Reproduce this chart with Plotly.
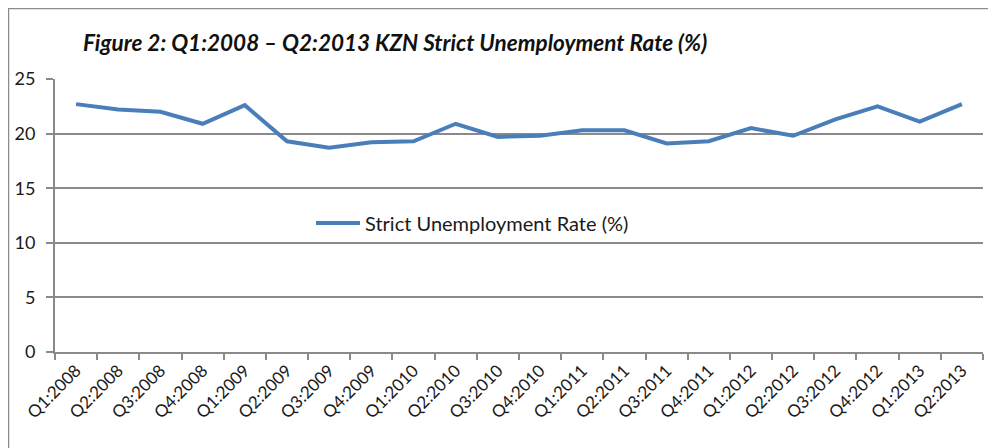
import plotly.graph_objects as go

quarters = ["Q1:2008", "Q2:2008", "Q3:2008", "Q4:2008", "Q1:2009", "Q2:2009", "Q3:2009",
            "Q4:2009", "Q1:2010", "Q2:2010", "Q3:2010", "Q4:2010", "Q1:2011", "Q2:2011",
            "Q3:2011", "Q4:2011", "Q1:2012", "Q2:2012", "Q3:2012", "Q4:2012", "Q1:2013",
            "Q2:2013"]
rate = [22.7, 22.2, 22.0, 20.9, 22.6, 19.3, 18.7, 19.2, 19.3, 20.9, 19.7, 19.8, 20.3,
        20.3, 19.1, 19.3, 20.5, 19.8, 21.3, 22.5, 21.1, 22.7]
series_name = "Strict Unemployment Rate (%)"
title_text = "Figure 2: Q1:2008 \u2013 Q2:2013 KZN Strict Unemployment Rate (%)"

FONT = "Lato, 'Open Sans', sans-serif"
GRID = "#8a8a8a"
TXT = "#1a1a1a"

fig = go.Figure()
fig.add_trace(go.Scatter(x=quarters, y=rate, mode="lines", name=series_name,
                         line=dict(color="#4a7ebb", width=4)))

# page body has an 8px margin: figure is drawn at (8, 8) in the window
OFF = 8
W, H = 996 - OFF, 448 - OFF
L, T = 55 - OFF, 79 - OFF
R = W - (983 - OFF)
B = H - (352 - OFF)
PW, PH = W - L - R, H - T - B


def px_x(sx):
    return (sx - OFF - L) / PW


def px_y(sy):
    return (352 - sy) / PH


fig.update_layout(
    width=W, height=H,
    margin=dict(l=L, r=R, t=T, b=B, autoexpand=False),
    paper_bgcolor="white", plot_bgcolor="white",
    font=dict(family=FONT, color=TXT),
    showlegend=True,
    legend=dict(x=px_x(311), y=px_y(223),
                xanchor="left", yanchor="middle", bgcolor="rgba(0,0,0,0)",
                itemwidth=44,
                font=dict(size=20, family=FONT, color=TXT)),
    xaxis=dict(type="category", range=[-0.5, len(quarters) - 0.5], automargin=False,
               showgrid=False, showline=True, linecolor=GRID, linewidth=2,
               ticks="outside", tickson="boundaries", ticklen=6, tickcolor=GRID, tickwidth=2,
               tickangle=-45, tickfont=dict(size=17, family=FONT, color=TXT),
               zeroline=False),
    yaxis=dict(range=[0, 25], tickvals=[0, 5, 10, 15, 20, 25], automargin=False,
               showgrid=True, gridcolor=GRID, gridwidth=2, showline=True, linecolor=GRID,
               linewidth=2, ticks="outside", ticklen=7, tickcolor=GRID, tickwidth=2,
               ticklabelstandoff=7,
               tickfont=dict(size=18, family=FONT, color=TXT), zeroline=False),
    annotations=[dict(text="<b><i>" + title_text + "</i></b>", xref="paper", yref="paper",
                      x=px_x(81), y=px_y(42),
                      xanchor="left", yanchor="middle", showarrow=False,
                      font=dict(size=22.5, family=FONT, color="#111111"))],
    shapes=[dict(type="rect", xref="paper", yref="paper",
                 x0=px_x(8.5), x1=px_x(1010),
                 y0=px_y(470), y1=px_y(8.5),
                 line=dict(color="#8c8c8c", width=1.5), layer="below")],
)

fig.write_html("out.html")
